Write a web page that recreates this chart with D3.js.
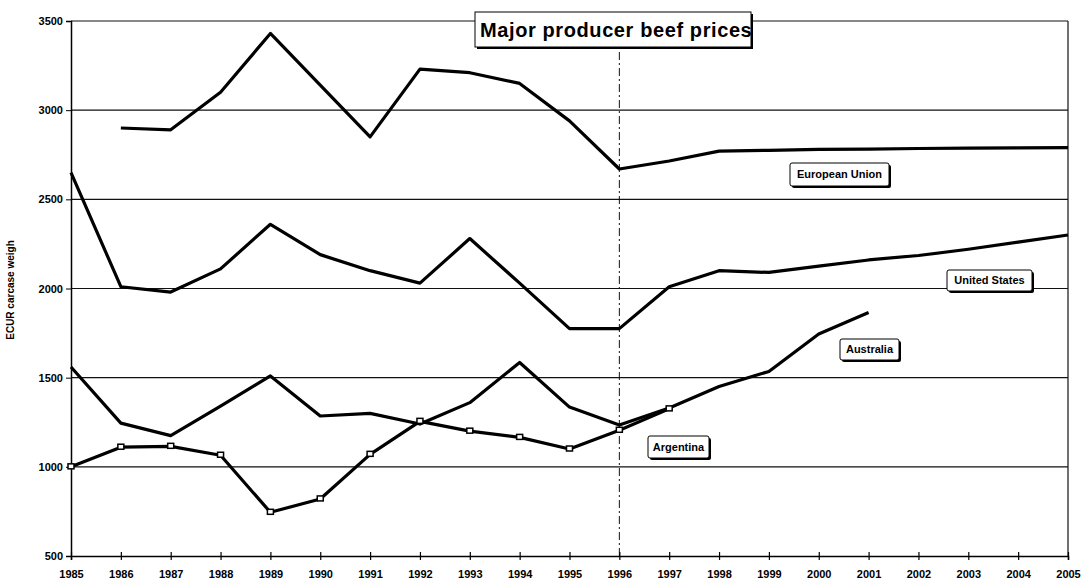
<!DOCTYPE html>
<html lang="en">
<head>
<meta charset="utf-8">
<title>Major producer beef prices</title>
<script src="https://d3js.org/d3.v7.min.js"></script>
<style>
body { margin: 0; background: #fff; }
.tick text { font-family: "Liberation Sans Narrow", "Liberation Sans", Arial, sans-serif; font-weight: bold; font-size: 11px; }
.lbl { font-family: "Liberation Sans Narrow", "Liberation Sans", Arial, sans-serif; font-weight: bold; font-size: 11px; }
</style>
</head>
<body>
<div id="container"></div>
<script>
// data
var years = d3.range(1985, 2006);
var euYears = d3.range(1986, 2006);
var euValues = [2900, 2890, 3100, 3430, 3140, 2850, 3230, 3210, 3150, 2940, 2670, 2715, 2770, 2775, 2780, 2782, 2785, 2787, 2788, 2790];
var usYears = d3.range(1985, 2006);
var usValues = [2650, 2010, 1980, 2110, 2360, 2190, 2100, 2030, 2280, 2030, 1775, 1775, 2010, 2100, 2090, 2125, 2160, 2185, 2220, 2260, 2300];
var auYears = d3.range(1985, 2002);
var auValues = [1560, 1245, 1175, 1340, 1510, 1285, 1300, 1240, 1360, 1585, 1335, 1235, 1330, 1450, 1535, 1745, 1865];
var arYears = d3.range(1985, 1998);
var arValues = [1000, 1110, 1115, 1065, 745, 820, 1070, 1255, 1200, 1165, 1100, 1205, 1325];
var yTicks = [500, 1000, 1500, 2000, 2500, 3000, 3500];

var w = 1083, h = 584;
var svg = d3.select("#container").append("svg").attr("width", w).attr("height", h);

var x = d3.scaleLinear().domain([1985, 2005]).range([71, 1068]);
var y = d3.scaleLinear().domain([500, 3500]).range([556, 21]);

// grid
svg.append("g").selectAll("line").data(yTicks.slice(1)).enter().append("line")
    .attr("x1", x(1985)).attr("x2", x(2005))
    .attr("y1", function(d) { return y(d); }).attr("y2", function(d) { return y(d); })
    .attr("stroke", "#111").attr("stroke-width", 1.2);

// right border
svg.append("line").attr("x1", x(2005)).attr("x2", x(2005)).attr("y1", y(3500)).attr("y2", y(500))
    .attr("stroke", "#111").attr("stroke-width", 1.2);

// 1996 marker line
svg.append("line").attr("x1", x(1996)).attr("x2", x(1996)).attr("y1", 52).attr("y2", y(500))
    .attr("stroke", "#111").attr("stroke-width", 1).attr("stroke-dasharray", "8,3,2,3");

// axes
var xAxis = d3.axisBottom(x).tickValues(years).tickFormat(d3.format("d")).tickSize(4).tickPadding(10);
var gx = svg.append("g").attr("transform", "translate(0," + y(500) + ")").call(xAxis);
gx.selectAll(".tick line").attr("y1", -4).attr("stroke-width", 1.2);
gx.select(".domain").attr("stroke-width", 1.5);

var yAxis = d3.axisLeft(y).tickValues(yTicks).tickFormat(d3.format("d")).tickSize(5).tickPadding(3);
var gy = svg.append("g").attr("transform", "translate(" + x(1985) + ",0)").call(yAxis);
gy.select(".domain").attr("stroke-width", 1.5);

svg.append("text").attr("class", "lbl")
    .attr("transform", "translate(14,290) rotate(-90)")
    .attr("text-anchor", "middle").style("font-size", "10px")
    .text("ECUR carcase weigh");

// lines
var line = d3.line().x(function(d) { return x(d[0]); }).y(function(d) { return y(d[1]); });
var series = [
    [euYears, euValues],
    [usYears, usValues],
    [auYears, auValues],
    [arYears, arValues]
];
series.forEach(function(s) {
    svg.append("path").datum(d3.zip(s[0], s[1])).attr("d", line)
        .attr("fill", "none").attr("stroke", "#000").attr("stroke-width", 3.2)
        .attr("stroke-linejoin", "round");
});

// Argentina markers
svg.append("g").selectAll("rect").data(d3.zip(arYears, arValues)).enter().append("rect")
    .attr("x", function(d) { return x(d[0]) - 3; }).attr("y", function(d) { return y(d[1]) - 3; })
    .attr("width", 6).attr("height", 5)
    .attr("fill", "#fff").attr("stroke", "#000").attr("stroke-width", 1.5);

// label boxes
function box(txt, cx, cy, bw, bh, fs) {
    svg.append("rect").attr("x", cx + 2).attr("y", cy + 2).attr("width", bw).attr("height", bh)
        .attr("rx", 2).attr("fill", "#000");
    svg.append("rect").attr("x", cx).attr("y", cy).attr("width", bw).attr("height", bh)
        .attr("rx", 2).attr("fill", "#fff").attr("stroke", "#000").attr("stroke-width", 1);
    svg.append("text").attr("class", "lbl").attr("x", cx + bw / 2).attr("y", cy + bh / 2 + fs * 0.36)
        .attr("text-anchor", "middle").style("font-size", fs + "px").text(txt);
}
box("European Union", 790, 163, 99, 23, 11);
box("United States", 947, 270, 85, 21, 11);
box("Australia", 840, 339, 59, 21, 11);
box("Argentina", 648, 436, 61, 22, 11);

// title
svg.append("rect").attr("x", 477).attr("y", 14).attr("width", 276).attr("height", 35).attr("fill", "#000");
svg.append("rect").attr("x", 475).attr("y", 12).attr("width", 276).attr("height", 35)
    .attr("fill", "#fff").attr("stroke", "#000").attr("stroke-width", 1);
svg.append("text").attr("x", 480).attr("y", 37)
    .style("font-family", "'Liberation Sans', Arial, sans-serif").style("font-weight", "bold")
    .style("letter-spacing", "0.6px")
    .style("font-size", "20px").text("Major producer beef prices");
</script>
</body>
</html>
